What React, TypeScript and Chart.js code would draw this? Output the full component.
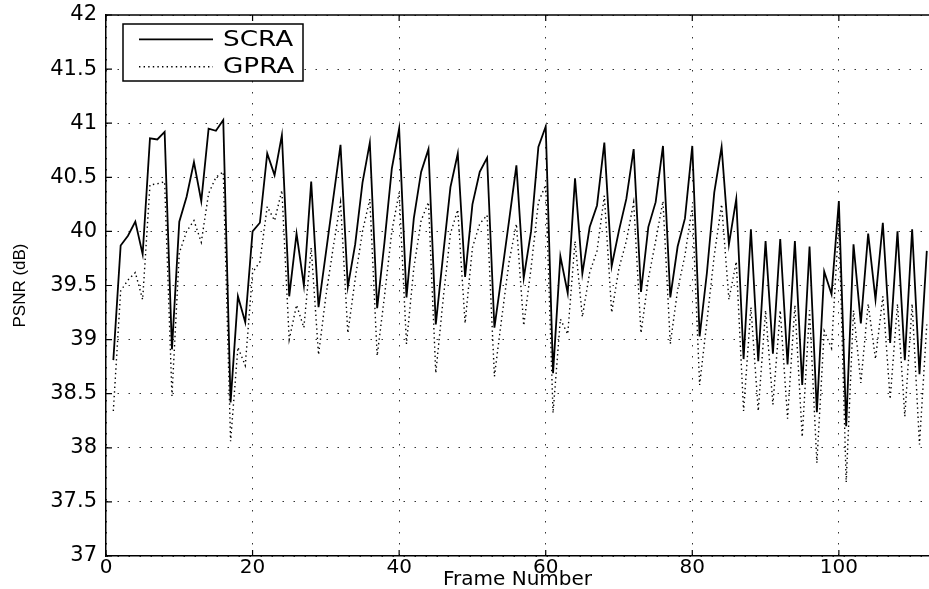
import React, { useEffect, useRef } from "react";
import { Chart, registerables } from "chart.js";

Chart.register(...registerables);

const seriesNames = ["SCRA", "GPRA"];

const scra = [
  38.81, 39.87, 39.96, 40.09, 39.79, 40.86, 40.85, 40.92, 38.91, 40.09,
  40.32, 40.64, 40.28, 40.95, 40.93, 41.03, 38.42, 39.40, 39.16, 40.00,
  40.08, 40.72, 40.52, 40.89, 39.40, 39.98, 39.50, 40.46, 39.30, 39.80,
  40.30, 40.80, 39.49, 39.88, 40.45, 40.82, 39.29, 39.90, 40.58, 40.95,
  39.39, 40.12, 40.55, 40.76, 39.14, 39.78, 40.41, 40.72, 39.58, 40.25,
  40.55, 40.68, 39.11, 39.60, 40.10, 40.61, 39.57, 40.00, 40.78, 40.97,
  38.69, 39.77, 39.43, 40.49, 39.61, 40.04, 40.24, 40.82, 39.68, 40.01,
  40.30, 40.76, 39.44, 40.04, 40.27, 40.79, 39.39, 39.86, 40.12, 40.79,
  39.03, 39.62, 40.36, 40.78, 39.88, 40.30, 38.82, 40.02, 38.80, 39.91,
  38.87, 39.93, 38.77, 39.91, 38.58, 39.86, 38.33, 39.63, 39.42, 40.28,
  38.20, 39.88, 39.15, 39.98, 39.37, 40.08, 38.97, 40.00, 38.81, 40.02,
  38.68, 39.82,
];

const gpra = [
  38.34, 39.45, 39.55, 39.62, 39.37, 40.43, 40.44, 40.46, 38.48, 39.80,
  40.00, 40.10, 39.90, 40.35, 40.50, 40.55, 38.06, 38.93, 38.76, 39.62,
  39.72, 40.23, 40.10, 40.38, 39.00, 39.32, 39.11, 39.85, 38.86, 39.40,
  39.85, 40.27, 39.06, 39.56, 40.00, 40.30, 38.85, 39.40, 40.00, 40.36,
  38.96, 39.66, 40.10, 40.27, 38.69, 39.37, 39.98, 40.20, 39.15, 39.85,
  40.07, 40.15, 38.66, 39.20, 39.72, 40.07, 39.13, 39.66, 40.27, 40.43,
  38.32, 39.19, 39.05, 39.91, 39.21, 39.62, 39.82, 40.33, 39.25, 39.66,
  39.91, 40.27, 39.06, 39.56, 39.91, 40.28, 38.96, 39.46, 39.78, 40.23,
  38.58, 39.17, 39.78, 40.25, 39.37, 39.72, 38.34, 39.30, 38.34, 39.27,
  38.40, 39.27, 38.27, 39.32, 38.10, 39.27, 37.86, 39.08, 38.92, 40.10,
  37.68, 39.27, 38.60, 39.33, 38.82, 39.40, 38.45, 39.33, 38.29, 39.33,
  38.03, 39.14,
];

const xTicks = [0, 20, 40, 60, 80, 100];
const yTicks = [37, 37.5, 38, 38.5, 39, 39.5, 40, 40.5, 41, 41.5, 42];

const xTitle = "Frame Number";
const yTitle = "PSNR (dB)";

const wideFont = "'DejaVu Sans', 'Liberation Sans', Arial, sans-serif";
const plainFont = "'Liberation Sans', Arial, sans-serif";

export default function App() {
  const ref = useRef<HTMLCanvasElement>(null);

  useEffect(() => {
    if (!ref.current) return;
    const frames = scra.map((_, i) => i + 1);

    const framePlugin = {
      id: "matlabFrame",
      afterDraw(chart: any) {
        const { ctx, chartArea: a, scales } = chart;
        ctx.save();
        ctx.strokeStyle = "#000";
        ctx.lineWidth = 1.5;
        ctx.beginPath();
        ctx.moveTo(a.left, a.top);
        ctx.lineTo(a.right, a.top);
        ctx.stroke();

        ctx.lineWidth = 1.2;
        const tl = 6;
        ctx.beginPath();
        xTicks.forEach((v) => {
          const px = scales.x.getPixelForValue(v);
          ctx.moveTo(px, a.bottom);
          ctx.lineTo(px, a.bottom - tl);
          ctx.moveTo(px, a.top);
          ctx.lineTo(px, a.top + tl);
        });
        yTicks.forEach((v) => {
          const py = scales.y.getPixelForValue(v);
          ctx.moveTo(a.left, py);
          ctx.lineTo(a.left + tl, py);
        });
        ctx.stroke();

        // legend box
        const bx = a.left + 17;
        const by = a.top + 9;
        const bw = 180;
        const bh = 57;
        ctx.fillStyle = "#fff";
        ctx.fillRect(bx, by, bw, bh);
        ctx.lineWidth = 1.5;
        ctx.strokeStyle = "#000";
        ctx.strokeRect(bx, by, bw, bh);
        const rows = [by + bh * 0.27, by + bh * 0.75];
        chart.data.datasets.forEach((ds: any, i: number) => {
          const y = rows[i];
          ctx.save();
          ctx.strokeStyle = "#000";
          ctx.lineWidth = ds.borderWidth;
          ctx.setLineDash(ds.borderDash || []);
          ctx.beginPath();
          ctx.moveTo(bx + 16, y);
          ctx.lineTo(bx + 90, y);
          ctx.stroke();
          ctx.restore();
          ctx.save();
          ctx.fillStyle = "#000";
          ctx.font = `21px ${wideFont}`;
          ctx.textAlign = "left";
          ctx.textBaseline = "middle";
          ctx.translate(bx + 100, y + 1);
          ctx.scale(1.25, 1);
          ctx.fillText(ds.label, 0, 0);
          ctx.restore();
        });
        ctx.restore();
      },
    };

    const chart = new Chart(ref.current, {
      type: "line",
      data: {
        datasets: [
          {
            label: seriesNames[0],
            data: frames.map((f, i) => ({ x: f, y: scra[i] })),
            borderColor: "#000",
            borderWidth: 1.8,
            pointRadius: 0,
            tension: 0,
            fill: false,
          },
          {
            label: seriesNames[1],
            data: frames.map((f, i) => ({ x: f, y: gpra[i] })),
            borderColor: "#000",
            borderWidth: 1.4,
            borderDash: [1.4, 3.2],
            pointRadius: 0,
            tension: 0,
            fill: false,
          },
        ],
      },
      options: {
        animation: false,
        responsive: true,
        maintainAspectRatio: false,
        layout: { padding: { top: 15, left: 0, right: 0, bottom: 0 } },
        plugins: {
          legend: { display: false },
          tooltip: { enabled: false },
        },
        scales: {
          x: {
            type: "linear",
            min: 0,
            max: 112.3,
            afterBuildTicks: (scale: any) => {
              scale.ticks = xTicks.map((v) => ({ value: v }));
            },
            afterFit: (scale: any) => {
              scale.height = 33;
              scale.paddingLeft = 0;
              scale.paddingRight = 0;
            },
            ticks: {
              color: "#000",
              font: { family: wideFont, size: 20 },
              padding: 0,
              maxRotation: 0,
              autoSkip: false,
            },
            grid: { color: "#333", lineWidth: 1, drawTicks: false },
            border: { display: true, color: "#000", width: 1.5, dash: [1.5, 9.5] },
            title: {
              display: true,
              text: xTitle,
              color: "#000",
              font: { family: wideFont, size: 20 },
              padding: { top: 0, bottom: -3 },
            },
          },
          y: {
            type: "linear",
            min: 37,
            max: 42,
            afterBuildTicks: (scale: any) => {
              scale.ticks = yTicks.map((v) => ({ value: v }));
            },
            afterFit: (scale: any) => {
              scale.width = 106;
              scale.paddingTop = 0;
              scale.paddingBottom = 0;
            },
            ticks: {
              color: "#000",
              font: { family: wideFont, size: 21 },
              padding: 9,
              autoSkip: false,
              callback: (value: any) => `${value}`,
            },
            grid: { color: "#333", lineWidth: 1, drawTicks: false },
            border: { display: true, color: "#000", width: 1.5, dash: [1.5, 9.5] },
            title: {
              display: true,
              text: yTitle,
              color: "#000",
              font: { family: plainFont, size: 17 },
              padding: { top: 10, bottom: 0 },
            },
          },
        },
      },
      plugins: [framePlugin],
    });

    return () => chart.destroy();
  }, []);

  return (
    <div style={{ position: "fixed", left: 0, top: 0, width: 929, height: 589, background: "#fff" }}>
      <canvas ref={ref} />
    </div>
  );
}
